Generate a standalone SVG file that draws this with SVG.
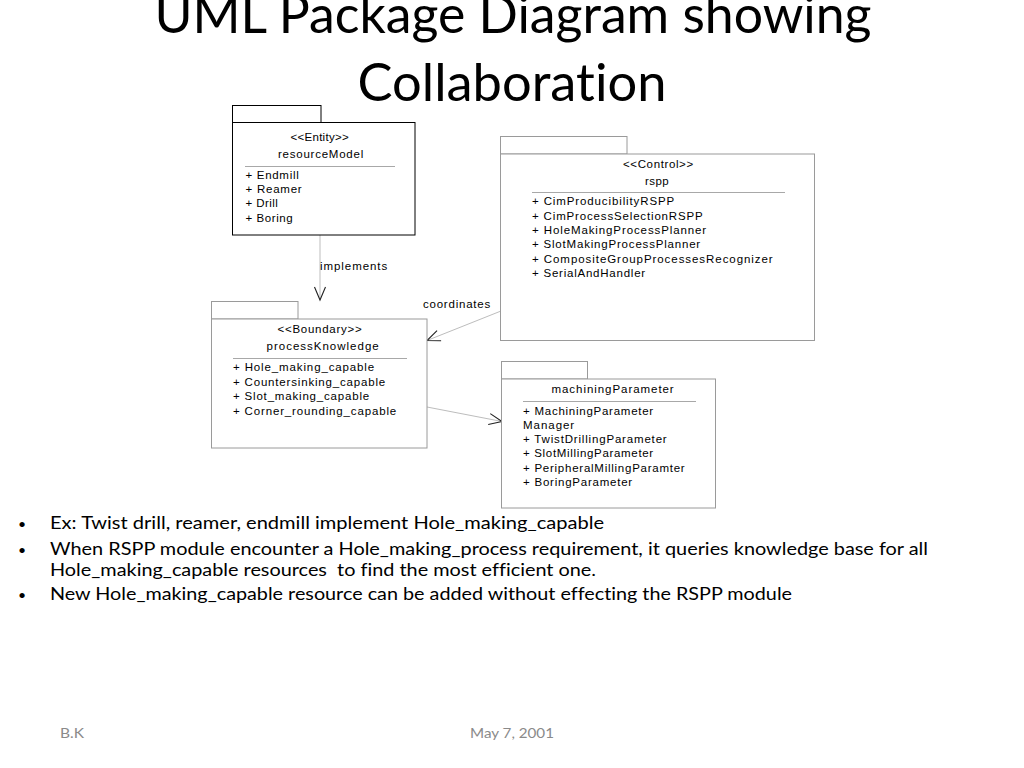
<svg xmlns="http://www.w3.org/2000/svg" width="1024" height="768" viewBox="0 0 1024 768">
<defs>
<style>
.title{font-family:Lato,"Liberation Sans",sans-serif;font-size:53px;fill:#000;font-variant-ligatures:none}
.bul{font-family:Lato,"Liberation Sans",sans-serif;font-size:16.8px;fill:#000;font-variant-ligatures:none}
.foot{font-family:Lato,"Liberation Sans",sans-serif;font-size:12.5px;fill:#8a8a8a}
.u{font-family:"Liberation Sans",Arial,sans-serif;font-size:11.5px;fill:#000;letter-spacing:0.8px}
.c{text-anchor:middle}
.pkgd{fill:#fff;stroke:#000;stroke-width:1}
.pkg{fill:#fff;stroke:#9a9a9a;stroke-width:1}
.sep{stroke:#a8a8a8;stroke-width:1}
.conn{fill:none;stroke:#bdbdbd;stroke-width:1}
</style>
<marker id="open" viewBox="-1 -7 16 14" refX="13" refY="0" markerWidth="16" markerHeight="14" markerUnits="userSpaceOnUse" orient="auto">
<path d="M0,-5.5 L13,0 L0,5.5" fill="none" stroke="#222" stroke-width="1.1"/>
</marker>
</defs>
<rect width="1024" height="768" fill="#fff"/>

<g id="title">
<text class="title c" x="513" y="33" textLength="717" lengthAdjust="spacingAndGlyphs">UML Package Diagram showing</text>
<text class="title c" x="512" y="101" textLength="309" lengthAdjust="spacingAndGlyphs">Collaboration</text>
</g>

<g id="connectors">
<line class="conn" x1="320" y1="235" x2="320" y2="300" marker-end="url(#open)"/>
<text class="u" x="320" y="270" textLength="68">implements</text>
<line class="conn" x1="501" y1="311" x2="427" y2="340.5" marker-end="url(#open)"/>
<text class="u" x="423" y="308" textLength="68">coordinates</text>
<line class="conn" x1="427" y1="407" x2="502" y2="421.5" marker-end="url(#open)"/>
</g>

<g id="resourceModel">
<rect class="pkgd" x="232.5" y="105.5" width="88.5" height="17"/>
<rect class="pkgd" x="232.5" y="122.5" width="182.5" height="112.5"/>
<text class="u c" x="320" y="141" textLength="59">&lt;&lt;Entity&gt;&gt;</text>
<text class="u c" x="321" y="157.5" textLength="86">resourceModel</text>
<line class="sep" x1="245" y1="166.5" x2="395" y2="166.5"/>
<text class="u" x="245.5" y="178.5" textLength="54">+ Endmill</text>
<text class="u" x="245.5" y="193" textLength="57">+ Reamer</text>
<text class="u" x="245.5" y="207" textLength="33">+ Drill</text>
<text class="u" x="245.5" y="221.5" textLength="48">+ Boring</text>
</g>

<g id="rspp">
<rect class="pkg" x="500.5" y="136.5" width="126.5" height="17.5"/>
<rect class="pkg" x="500.5" y="154" width="314" height="186.5"/>
<text class="u c" x="658.5" y="167.5" textLength="71">&lt;&lt;Control&gt;&gt;</text>
<text class="u c" x="657" y="184.5" style="letter-spacing:0.4px">rspp</text>
<line class="sep" x1="532" y1="192.5" x2="785" y2="192.5"/>
<text class="u" x="532" y="205" textLength="143">+ CimProducibilityRSPP</text>
<text class="u" x="532" y="219.5" textLength="171.5">+ CimProcessSelectionRSPP</text>
<text class="u" x="532" y="233.5" textLength="175">+ HoleMakingProcessPlanner</text>
<text class="u" x="532" y="248" textLength="169">+ SlotMakingProcessPlanner</text>
<text class="u" x="532" y="262.5" textLength="241.5">+ CompositeGroupProcessesRecognizer</text>
<text class="u" x="532" y="277" textLength="114">+ SerialAndHandler</text>
</g>

<g id="processKnowledge">
<rect class="pkg" x="211.5" y="301.5" width="86.5" height="17.5"/>
<rect class="pkg" x="211.5" y="319" width="215.5" height="129"/>
<text class="u c" x="320" y="333" textLength="85">&lt;&lt;Boundary&gt;&gt;</text>
<text class="u c" x="323" y="349.5" textLength="113">processKnowledge</text>
<line class="sep" x1="233" y1="358.5" x2="407" y2="358.5"/>
<text class="u" x="233" y="371" textLength="142">+ Hole_making_capable</text>
<text class="u" x="233" y="385.5" textLength="153">+ Countersinking_capable</text>
<text class="u" x="233" y="400" textLength="137">+ Slot_making_capable</text>
<text class="u" x="233" y="414.5" textLength="164">+ Corner_rounding_capable</text>
</g>

<g id="machiningParameter">
<rect class="pkg" x="501.5" y="361.5" width="86" height="17.5"/>
<rect class="pkg" x="501.5" y="379" width="214" height="129"/>
<text class="u c" x="613" y="393" textLength="123">machiningParameter</text>
<line class="sep" x1="523" y1="401.5" x2="696" y2="401.5"/>
<text class="u" x="523" y="414.5" textLength="131">+ MachiningParameter</text>
<text class="u" x="523" y="428.5" textLength="52">Manager</text>
<text class="u" x="523" y="443" textLength="144.5">+ TwistDrillingParameter</text>
<text class="u" x="523" y="457" textLength="131">+ SlotMillingParameter</text>
<text class="u" x="523" y="471.5" textLength="162.5">+ PeripheralMillingParamter</text>
<text class="u" x="523" y="485.5" textLength="110">+ BoringParameter</text>
</g>

<g id="bullets">
<text class="bul" x="18" y="529" style="font-size:14px">•</text>
<text class="bul" x="50" y="529" textLength="554" lengthAdjust="spacingAndGlyphs">Ex: Twist drill, reamer, endmill implement Hole_making_capable</text>
<text class="bul" x="18" y="555" style="font-size:14px">•</text>
<text class="bul" x="50" y="555" textLength="878" lengthAdjust="spacingAndGlyphs">When RSPP module encounter a Hole_making_process requirement, it queries knowledge base for all</text>
<text class="bul" x="50" y="576" textLength="546" lengthAdjust="spacingAndGlyphs" xml:space="preserve">Hole_making_capable resources  to find the most efficient one.</text>
<text class="bul" x="18" y="600" style="font-size:14px">•</text>
<text class="bul" x="50" y="600" textLength="742" lengthAdjust="spacingAndGlyphs">New Hole_making_capable resource can be added without effecting the RSPP module</text>
</g>

<g id="footer">
<text class="foot" x="60" y="738" textLength="24" lengthAdjust="spacingAndGlyphs">B.K</text>
<text class="foot" x="470" y="738" textLength="84" lengthAdjust="spacingAndGlyphs">May 7, 2001</text>
</g>
</svg>
